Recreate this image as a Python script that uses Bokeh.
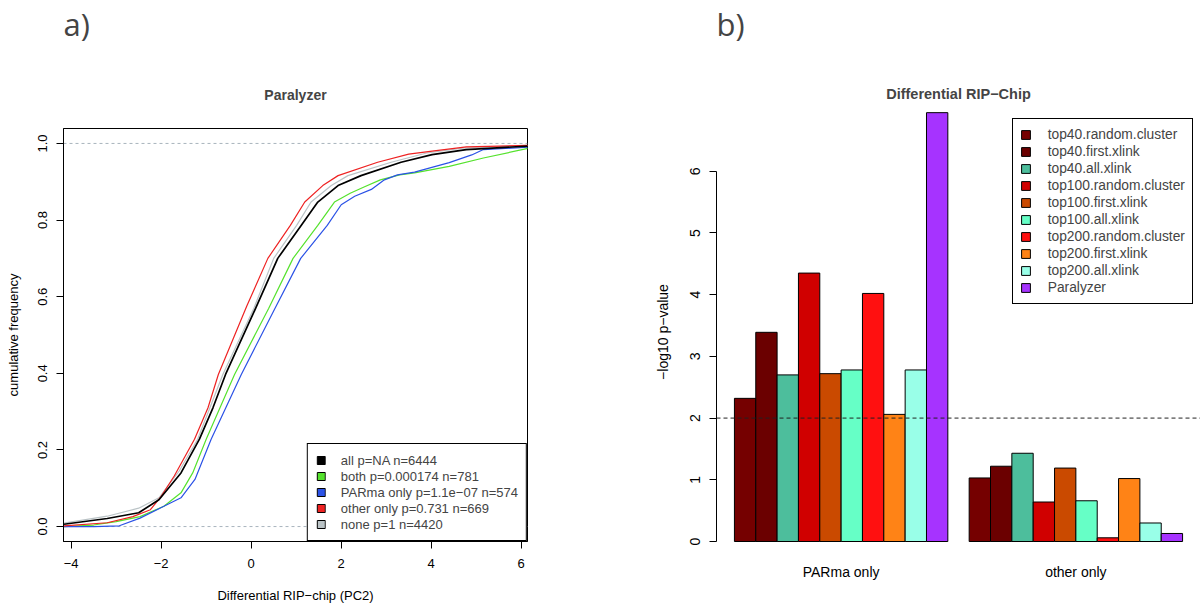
from bokeh.plotting import figure
from bokeh.layouts import row
from bokeh.models import FixedTicker, Span, Legend, LegendItem, Title, Range1d
from bokeh.embed import file_html
from bokeh.resources import INLINE

FONT = "Liberation Sans"
NAN = float("nan")

# ---------------- panel a) : cumulative distributions ----------------
a_labels = ["all p=NA n=6444", "both p=0.000174 n=781", "PARma only p=1.1e\u221207 n=574",
            "other only p=0.731 n=669", "none p=1 n=4420"]
a_colors = ["#000000", "#55E22D", "#2B52E6", "#EE2222", "#BAC3C6"]

all_x = [-4.16, -3.2, -2.5, -2.05, -1.56, -1.15, -0.85, -0.57, -0.25, 0.10, 0.59, 1.11, 1.48, 1.93, 2.44, 3.33, 4.02, 4.78, 6.15]
all_y = [0.006, 0.021, 0.036, 0.07, 0.14, 0.228, 0.31, 0.397, 0.48, 0.57, 0.70, 0.786, 0.847, 0.89, 0.916, 0.951, 0.971, 0.984, 0.993]

none_x = [-4.16, -3.2, -2.5, -2.05, -1.6, -1.19, -0.63, 0.06, 0.50, 1.01, 1.33, 1.78, 2.15, 3.11, 3.9, 4.7, 6.15]
none_y = [0.009, 0.027, 0.048, 0.075, 0.145, 0.228, 0.397, 0.57, 0.70, 0.786, 0.847, 0.89, 0.916, 0.951, 0.975, 0.988, 0.995]

other_x = [-4.16, -3.2, -2.63, -2.24, -2.0, -1.71, -1.26, -0.96, -0.73, -0.10, 0.37, 0.87, 1.19, 1.59, 1.93, 2.81, 3.5, 4.02, 4.78, 6.15]
other_y = [0.002, 0.01, 0.026, 0.044, 0.079, 0.132, 0.228, 0.31, 0.397, 0.575, 0.70, 0.786, 0.847, 0.89, 0.916, 0.951, 0.972, 0.98, 0.991, 0.995]

both_x = [-4.16, -3.5, -3.0, -2.47, -1.94, -1.56, -1.3, -1.0, -0.37, 0.39, 0.93, 1.48, 1.85, 2.2, 2.52, 2.87, 3.3, 3.63, 4.40, 5.16, 6.15]
both_y = [0.0, 0.004, 0.013, 0.026, 0.053, 0.088, 0.14, 0.228, 0.397, 0.57, 0.70, 0.786, 0.847, 0.87, 0.887, 0.905, 0.918, 0.923, 0.94, 0.962, 0.987]

parma_x = [-4.16, -3.5, -2.93, -2.47, -1.94, -1.56, -1.25, -0.89, -0.22, 0.53, 1.10, 1.69, 2.0, 2.3, 2.67, 2.96, 3.25, 3.63, 4.40, 4.9, 5.16, 6.15]
parma_y = [0.0, 0.0, 0.002, 0.022, 0.053, 0.075, 0.123, 0.228, 0.397, 0.57, 0.70, 0.786, 0.84, 0.862, 0.88, 0.905, 0.918, 0.925, 0.95, 0.97, 0.984, 0.99]

a_xticks = [-4, -2, 0, 2, 4, 6]
a_yticks = [0, 0.2, 0.4, 0.6, 0.8, 1.0]

# ---------------- panel b) : bar chart ----------------
b_groups = ["PARma only", "other only"]
b_methods = ["top40.random.cluster", "top40.first.xlink", "top40.all.xlink",
             "top100.random.cluster", "top100.first.xlink", "top100.all.xlink",
             "top200.random.cluster", "top200.first.xlink", "top200.all.xlink", "Paralyzer"]
b_colors = ["#750000", "#6B0000", "#4DBE9C", "#D00000", "#CA4A00", "#66FFC6",
            "#FF1010", "#FF8316", "#99FFE8", "#A633FF"]
parma_only_vals = [2.32, 3.39, 2.70, 4.35, 2.72, 2.78, 4.02, 2.06, 2.78, 6.95]
other_only_vals = [1.03, 1.22, 1.43, 0.64, 1.19, 0.66, 0.06, 1.02, 0.30, 0.13]
b_yticks = [0, 1, 2, 3, 4, 5, 6]
threshold = 2


def style_axis(ax, size):
    ax.major_tick_in = 0
    ax.major_tick_out = 7
    ax.major_tick_line_color = "black"
    ax.minor_tick_line_color = None
    ax.axis_line_color = "black"
    ax.major_label_text_font = FONT
    ax.major_label_text_font_size = size
    ax.major_label_text_color = "black"
    ax.axis_label_text_font = FONT
    ax.axis_label_text_font_size = size
    ax.axis_label_text_font_style = "normal"
    ax.axis_label_text_color = "black"


def spacer(gap):
    return Title(text=" ", text_font_size="1px", standoff=gap)


# ---- left figure ----
pa = figure(width=600, height=609, title=None, output_backend="svg", toolbar_location=None,
            x_range=Range1d(-4.171, 6.140), y_range=Range1d(-0.039, 1.039),
            min_border_left=63, min_border_right=73, min_border_top=126, min_border_bottom=68)
pa.frame_align = False
pa.xgrid.visible = False
pa.ygrid.visible = False
pa.outline_line_color = "black"
pa.outline_line_alpha = 1
pa.outline_line_width = 1

for ax in (pa.xaxis[0], pa.yaxis[0]):
    style_axis(ax, "13px")
pa.xaxis[0].ticker = FixedTicker(ticks=a_xticks)
pa.xaxis[0].major_label_overrides = {t: (str(t) if t >= 0 else "\u2212" + str(-t)) for t in a_xticks}
pa.xaxis[0].major_label_standoff = 10
pa.xaxis[0].axis_label = "Differential RIP\u2212chip (PC2)"
pa.xaxis[0].axis_label_standoff = 17
pa.yaxis[0].ticker = FixedTicker(ticks=a_yticks)
pa.yaxis[0].major_label_overrides = {t: "%.1f" % t for t in a_yticks}
pa.yaxis[0].major_label_orientation = "vertical"
pa.yaxis[0].major_label_standoff = 9
pa.yaxis[0].axis_label = "cumulative frequency"
pa.yaxis[0].axis_label_standoff = 15

for loc in (0, 1):
    pa.add_layout(Span(location=loc, dimension="width", line_color="#A8B4BD",
                       line_dash="3 3", line_width=1, level="underlay"))

a_series = [(none_x, none_y, a_colors[4], 1.2), (both_x, both_y, a_colors[1], 1.2),
            (parma_x, parma_y, a_colors[2], 1.2), (other_x, other_y, a_colors[3], 1.2),
            (all_x, all_y, a_colors[0], 1.7)]
for xs, ys, c, w in a_series:
    pa.line(xs, ys, line_color=c, line_width=w)

a_items = []
for lab, c in zip(a_labels, a_colors):
    # legend swatch only (NaN data draws nothing in the plot area)
    r = pa.vbar(x=[NAN], top=[NAN], width=1, fill_color=c, line_color="black", line_width=1)
    a_items.append(LegendItem(label=lab, renderers=[r]))
leg_a = Legend(items=a_items, location="bottom_right", margin=0, padding=8, spacing=0,
               label_height=16, glyph_height=10, glyph_width=10, label_standoff=15,
               label_text_font=FONT, label_text_font_size="13px",
               border_line_color="black", border_line_width=1, border_line_alpha=1,
               background_fill_alpha=1)
pa.add_layout(leg_a)

pa.add_layout(Title(text="Paralyzer", align="center", text_font=FONT, text_font_size="14px",
                    text_font_style="bold", standoff=52), "above")
pa.add_layout(spacer(11), "above")
pa.add_layout(Title(text="a)", align="left", offset=0, text_font="Open Sans", text_font_size="31px",
                    text_font_style="normal", standoff=0), "above")

# ---- right figure ----
pb = figure(width=600, height=609, title=None, output_backend="svg", toolbar_location=None,
            x_range=Range1d(0.16, 22.84), y_range=Range1d(-0.2755, 7.066),
            min_border_left=116, min_border_right=0, min_border_top=105, min_border_bottom=51)
pb.frame_align = False
pb.xgrid.visible = False
pb.ygrid.visible = False
pb.outline_line_color = None

b_items = []
n = len(b_methods)
for i, (m, c) in enumerate(zip(b_methods, b_colors)):
    xs = [1.5 + i, 1.5 + i + n + 1]
    r = pb.vbar(x=xs, top=[parma_only_vals[i], other_only_vals[i]], bottom=0, width=1,
                fill_color=c, line_color="black", line_width=1)
    b_items.append(LegendItem(label=m, renderers=[r]))

pb.add_layout(Span(location=threshold, dimension="width", line_color="#222222",
                   line_dash="4 3", line_width=1))

style_axis(pb.yaxis[0], "14px")
pb.yaxis[0].ticker = FixedTicker(ticks=b_yticks)
pb.yaxis[0].bounds = (0, 6)
pb.yaxis[0].major_label_orientation = "vertical"
pb.yaxis[0].major_label_standoff = 9
pb.yaxis[0].axis_label = "\u2212log10 p\u2212value"
pb.yaxis[0].axis_label_standoff = 17

style_axis(pb.xaxis[0], "14px")
centers = [1 + n / 2, 1 + n + 1 + n / 2]
pb.xaxis[0].ticker = FixedTicker(ticks=centers)
pb.xaxis[0].major_label_overrides = {c: g for c, g in zip(centers, b_groups)}
pb.xaxis[0].axis_line_color = None
pb.xaxis[0].major_tick_line_color = None
pb.xaxis[0].major_tick_out = 0
pb.xaxis[0].major_label_standoff = 5

leg_b = Legend(items=b_items, location=(295.7, 253.7), margin=0, padding=7, spacing=0,
               label_height=17, glyph_height=11, glyph_width=11, label_standoff=17,
               label_text_font=FONT, label_text_font_size="13.8px",
               border_line_color="black", border_line_width=1, border_line_alpha=1,
               background_fill_alpha=1)
pb.add_layout(leg_b)

pb.add_layout(Title(text="Differential RIP\u2212Chip", align="center", text_font=FONT,
                    text_font_size="14.5px", text_font_style="bold", standoff=8), "above")
pb.add_layout(spacer(32), "above")
pb.add_layout(Title(text="b)", align="left", offset=0, text_font="Open Sans", text_font_size="31px",
                    text_font_style="normal", standoff=0), "above")

layout = row(pa, pb)
open("out.html", "w").write(file_html(layout, INLINE))
